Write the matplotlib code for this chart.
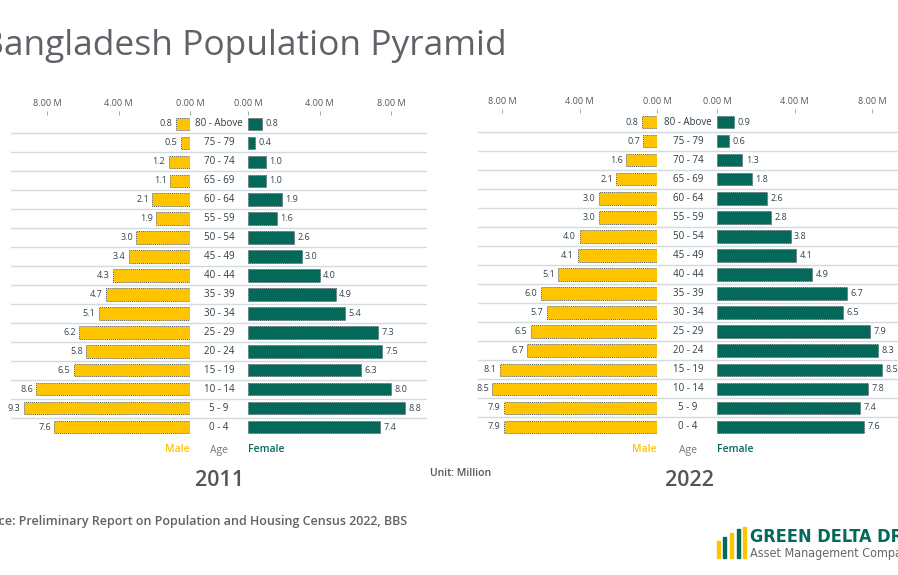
import matplotlib
matplotlib.use('Agg')
import matplotlib.pyplot as plt
from matplotlib.patches import Rectangle

plt.rcParams['font.family'] = ['Open Sans', 'DejaVu Sans']

ages = ['80 - Above', '75 - 79', '70 - 74', '65 - 69', '60 - 64', '55 - 59', '50 - 54',
        '45 - 49', '40 - 44', '35 - 39', '30 - 34', '25 - 29', '20 - 24', '15 - 19',
        '10 - 14', '5 - 9', '0 - 4']
male_2011 = [0.8, 0.5, 1.2, 1.1, 2.1, 1.9, 3.0, 3.4, 4.3, 4.7, 5.1, 6.2, 5.8, 6.5, 8.6, 9.3, 7.6]
female_2011 = [0.8, 0.4, 1.0, 1.0, 1.9, 1.6, 2.6, 3.0, 4.0, 4.9, 5.4, 7.3, 7.5, 6.3, 8.0, 8.8, 7.4]
male_2022 = [0.8, 0.7, 1.6, 2.1, 3.0, 3.0, 4.0, 4.1, 5.1, 6.0, 5.7, 6.5, 6.7, 8.1, 8.5, 7.9, 7.9]
female_2022 = [0.9, 0.6, 1.3, 1.8, 2.6, 2.8, 3.8, 4.1, 4.9, 6.7, 6.5, 7.9, 8.3, 8.5, 7.8, 7.4, 7.6]
ticks = [0, 4, 8]

YELLOW = '#FFC400'
GREEN = '#05695A'
W, H = 898, 575

fig = plt.figure(figsize=(W / 100, H / 100), dpi=100)


def px_axes(x0, y0, x1, y1):
    return fig.add_axes([x0 / W, 1 - y1 / H, (x1 - x0) / W, (y1 - y0) / H])


def ftext(x, y, s, **kw):
    fig.text(x / W, 1 - y / H, s, **kw)


def pyramid(male, female, x0, xm, xf, x1, ytop, ybot, ppm, xc, year):
    n = len(ages)
    pos = list(range(n))
    bg = px_axes(x0, ytop, x1, ybot)
    bg.set_xlim(x0, x1)
    bg.set_ylim(n - 0.5, -0.5)
    bg.axis('off')
    for i in range(n - 1):
        bg.axhline(i + 0.5, color='#d3dadd', lw=1.0)
    for i, a in enumerate(ages):
        bg.text(xc, i, a, ha='center', va='center', fontsize=7, color='#2e3b44')

    axm = px_axes(x0, ytop, xm, ybot)
    axf = px_axes(xf, ytop, x1, ybot)
    axm.set_xlim((xm - x0) / ppm, 0)
    axf.set_xlim(0, (x1 - xf) / ppm)
    for ax, vals, col, side in [(axm, male, YELLOW, -1), (axf, female, GREEN, 1)]:
        ax.patch.set_alpha(0)
        ax.set_ylim(n - 0.5, -0.5)
        ax.barh(pos, vals, height=0.66, color=col, edgecolor='#55606a',
                linewidth=0.7, linestyle=(0, (1, 1)))
        for p, v in zip(pos, vals):
            ax.annotate(f'{v:.1f}', (v, p), xytext=(2.5 * side, 0), textcoords='offset points',
                        ha='left' if side > 0 else 'right', va='center',
                        fontsize=6.5, color='#34444e')
        ax.xaxis.tick_top()
        ax.set_xticks(ticks)
        ax.set_xticklabels([f'{t:.2f} M' for t in ticks])
        ax.tick_params(axis='x', length=3, width=0.6, color='#999999', pad=2,
                       labelsize=6.5, labelcolor='#555555')
        ax.set_yticks([])
        for s in ax.spines.values():
            s.set_visible(False)

    ftext(xm, 450, 'Male', ha='right', va='center', fontsize=7.5, color=YELLOW, fontweight='semibold')
    ftext(xc, 451, 'Age', ha='center', va='center', fontsize=7.5, color='#777777')
    ftext(xf, 450, 'Female', ha='left', va='center', fontsize=7.5, color=GREEN, fontweight='semibold')
    ftext(xc + 1, 480, year, ha='center', va='center', fontsize=15.5, color='#555555',
          fontweight='semibold')


pyramid(male_2011, female_2011, 11, 190, 248, 427, 114.5, 436.5, 17.875, 219, '2011')
pyramid(male_2022, female_2022, 478, 657, 717, 898, 112.5, 436.5, 19.375, 688, '2022')

ftext(507, 46, 'Bangladesh Population Pyramid', ha='right', va='center', fontsize=25.5,
      color='#5f6368')
ftext(461, 474, 'Unit: Million', ha='center', va='center', fontsize=7.5, color='#555555',
      fontweight='semibold')
ftext(407, 522, 'Source: Preliminary Report on Population and Housing Census 2022, BBS',
      ha='right', va='center', fontsize=9, color='#5f6368', fontweight='semibold')

# logo
logo_bars = [(717, 541, YELLOW), (723, 537, GREEN), (730, 533, YELLOW), (737, 529, GREEN), (743, 527, YELLOW)]
for x, top, c in logo_bars:
    fig.patches.append(Rectangle((x / W, 1 - 558 / H), 3 / W, (558 - top) / H,
                                 transform=fig.transFigure, color=c))
ftext(750, 537, 'GREEN DELTA DRAGON', ha='left', va='center', fontsize=13, color=GREEN,
      fontweight='bold', fontstretch='condensed', family=['DejaVu Sans'])
ftext(750, 553, 'Asset Management Company', ha='left', va='center', fontsize=9,
      color='#666666', fontstretch='condensed', family=['DejaVu Sans'])

fig.savefig('out.png', dpi=100)
